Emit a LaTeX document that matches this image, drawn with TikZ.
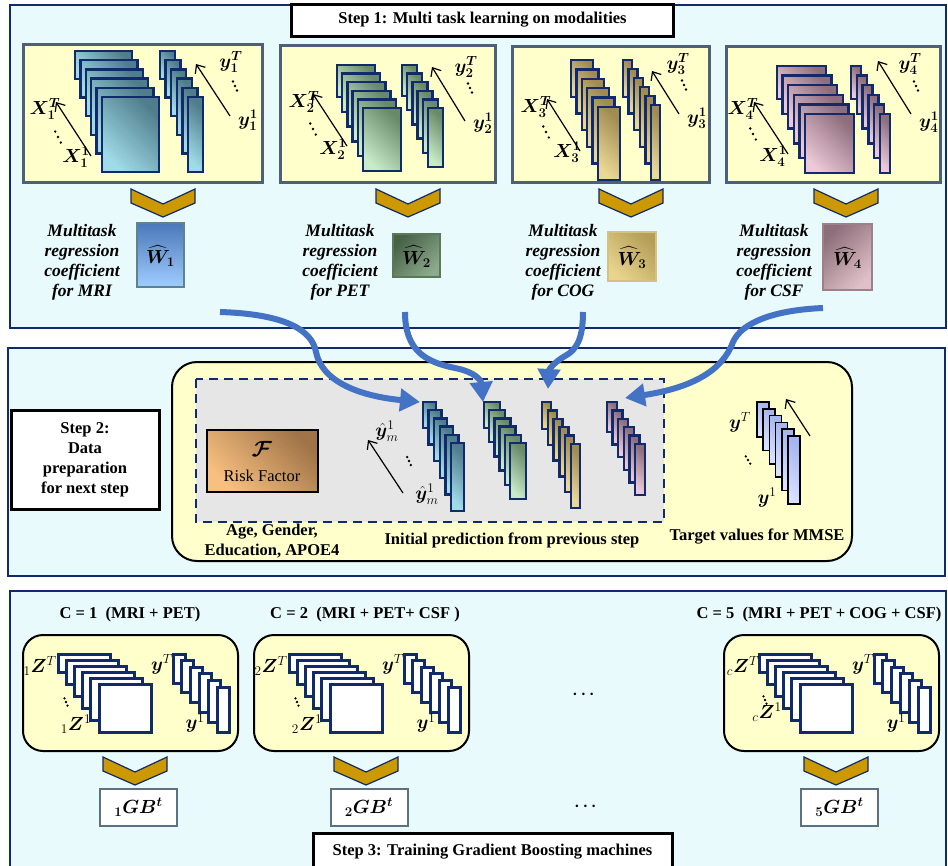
\RequirePackage{fix-cm}
\documentclass[tikz,border=0pt]{standalone}
\usepackage{amsmath}
\usepackage{bm}
\usepackage{fontspec}
\setmainfont{Liberation Serif}
\usetikzlibrary{arrows.meta}

\definecolor{panelbg}{RGB}{232,250,251}
\definecolor{navy}{RGB}{16,42,106}
\definecolor{ylw}{RGB}{255,255,204}
\definecolor{modborder}{RGB}{80,95,120}
\definecolor{gold}{RGB}{204,153,0}
\definecolor{arrowblue}{RGB}{68,114,196}
\definecolor{tealL}{RGB}{160,220,232}
\definecolor{tealD}{RGB}{80,125,140}
\definecolor{greenL}{RGB}{200,235,200}
\definecolor{greenD}{RGB}{105,138,105}
\definecolor{goldL}{RGB}{236,216,150}
\definecolor{goldD}{RGB}{160,140,80}
\definecolor{mauveL}{RGB}{236,200,216}
\definecolor{mauveD}{RGB}{142,110,126}
\definecolor{blueL}{RGB}{215,224,255}
\definecolor{blueD}{RGB}{165,182,240}
\definecolor{dashbg}{RGB}{230,230,230}
\definecolor{gbborder}{RGB}{95,112,128}
\definecolor{wOneT}{RGB}{75,120,185}
\definecolor{wOneB}{RGB}{160,205,255}
\definecolor{wOneR}{RGB}{95,130,145}
\definecolor{wTwoT}{RGB}{72,98,72}
\definecolor{wTwoB}{RGB}{140,170,140}
\definecolor{wTwoR}{RGB}{90,120,90}
\definecolor{wThrT}{RGB}{180,158,88}
\definecolor{wThrB}{RGB}{232,212,140}
\definecolor{wThrR}{RGB}{210,195,130}
\definecolor{wFouT}{RGB}{142,110,122}
\definecolor{wFouB}{RGB}{224,192,200}
\definecolor{wFouR}{RGB}{158,128,136}
\definecolor{rfD}{RGB}{160,116,72}
\definecolor{rfL}{RGB}{248,192,128}

\newcommand{\txtsz}{\fontsize{16.5}{20}\selectfont}
\newcommand{\lblsz}{\fontsize{17.5}{20}\selectfont}
\newcommand{\mathsz}{\fontsize{19}{20}\selectfont}
% x0 y0 dx dy w h-first h-last n style
\newcommand{\drawstack}[9]{%
  \foreach \ii in {1,...,#8}{%
    \pgfmathsetmacro{\stx}{#1+(\ii-1)*(#3)}%
    \pgfmathsetmacro{\sty}{#2+(\ii-1)*(#4)}%
    \pgfmathsetmacro{\sth}{#6+(\ii-1)*((#7)-(#6))/((#8)-1)}%
    \draw[#9] (\stx,\sty) rectangle ++(#5,\sth);
  }}
\newcommand{\chevron}[2]{%
  \draw[chev] (#1-32,#2) -- (#1,#2+15) -- (#1+32,#2) -- (#1+32,#2+14) -- (#1,#2+28) -- (#1-32,#2+14) -- cycle;}
% three slanted dots: centre x, centre y, step x, step y
\newcommand{\ddts}[4]{%
  \foreach \jj in {-1,0,1}{\fill (#1+\jj*#3,#2+\jj*#4) circle (1.3);}}

\begin{document}
\begin{tikzpicture}[x=1pt,y=-1pt,
  panel/.style={fill=panelbg, draw=navy, line width=2.5pt},
  modbox/.style={fill=ylw, draw=modborder, line width=3pt},
  titlebox/.style={fill=white, draw=black, line width=3pt, font=\txtsz\bfseries, inner sep=0},
  stk/.style={draw=navy, line width=2.4pt},
  tealst/.style={stk, top color=tealD, bottom color=tealL, shading angle=-45},
  greenst/.style={stk, top color=greenD, bottom color=greenL, shading angle=-45},
  goldst/.style={stk, top color=goldD, bottom color=goldL, shading angle=-45},
  mauvest/.style={stk, top color=mauveD, bottom color=mauveL, shading angle=-45},
  whitest/.style={draw=navy, line width=3pt, fill=white},
  bluest/.style={draw=black, line width=1.5pt, top color=blueD, bottom color=blueL, shading angle=-45},
  chev/.style={fill=gold, draw=navy, line width=1.2pt, line join=miter},
  thinarr/.style={-{Straight Barb[length=7pt,width=12pt]}, line width=1.2pt},
  bluearrow/.style={draw=arrowblue, line width=6pt, -{Triangle[length=20pt,width=22pt]}},
  lbl/.style={font=\lblsz\bfseries\itshape, align=center, inner sep=0},
  txt/.style={font=\txtsz\bfseries, align=center, inner sep=0},
  ml/.style={font=\mathsz, inner sep=0},
  gbbox/.style={draw=gbborder, line width=2pt, fill=white, minimum width=77, minimum height=37, inner sep=0, font=\mathsz}
]
\useasboundingbox (0,0) rectangle (948,865);
\fill[white] (0,0) rectangle (948,865);

% ---------------- Panels
\draw[panel] (10,5) rectangle (946,328);
\draw[panel] (8,348) rectangle (945,576);
\draw[panel] (10,591) rectangle (946,870);

% ---------------- Step 1
\node[titlebox, minimum width=382, minimum height=32] (t1) at (482.5,20) {Step 1: Multi task learning on modalities};

\draw[modbox] (23,44) rectangle (262,182);
\draw[modbox] (280,45) rectangle (495,182);
\draw[modbox] (512,46) rectangle (709,182);
\draw[modbox] (726,46) rectangle (940,182);

% box 1
\drawstack{75}{51}{5.4}{9.2}{57}{28}{75}{6}{tealst}
\drawstack{160}{51}{5.6}{9.2}{15}{28}{75}{6}{tealst}
\draw[thinarr] (91,156) -- (56,102);
\draw[thinarr] (230,116) -- (196,64);
\node[ml] at (45,109) {$\boldsymbol{X_1^T}$};
\ddts{58}{137}{2.8}{5.5}
\node[ml] at (76,157) {$\boldsymbol{X_1^1}$};
\node[ml] at (231,62) {$\boldsymbol{y_1^T}$};
\ddts{235}{86}{2}{4.5}
\node[ml] at (248,120) {$\boldsymbol{y_1^1}$};

% box 2
\drawstack{337}{65}{5.2}{8.6}{38}{32}{63}{6}{greenst}
\drawstack{402}{65}{5.2}{8.6}{15}{31}{59}{6}{greenst}
\draw[thinarr] (347,146) -- (313,94);
\draw[thinarr] (465,121) -- (432,67);
\node[ml] at (304,102) {$\boldsymbol{X_2^T}$};
\ddts{313}{129}{2.8}{5.5}
\node[ml] at (333,149) {$\boldsymbol{X_2^1}$};
\node[ml] at (466,67) {$\boldsymbol{y_2^T}$};
\ddts{470}{88}{2}{4.5}
\node[ml] at (483,123) {$\boldsymbol{y_2^1}$};

% box 3
\drawstack{571}{60}{5.4}{9.4}{22}{37}{73}{6}{goldst}
\drawstack{623}{60}{5.6}{9.0}{9}{37}{75}{6}{goldst}
\draw[thinarr] (580,151) -- (547,99);
\draw[thinarr] (679,114) -- (652,71);
\node[ml] at (536,107) {$\boldsymbol{X_3^T}$};
\ddts{546}{132}{2.8}{5.5}
\node[ml] at (567,152) {$\boldsymbol{X_3^1}$};
\node[ml] at (678,64) {$\boldsymbol{y_3^T}$};
\ddts{684}{85}{2}{4.5}
\node[ml] at (697,118) {$\boldsymbol{y_3^1}$};

% box 4
\drawstack{777}{66}{5.6}{9.6}{49}{33}{59}{6}{mauvest}
\drawstack{851}{66}{5.8}{9.6}{10}{33}{59}{6}{mauvest}
\draw[thinarr] (788,154) -- (754,102);
\draw[thinarr] (911,114) -- (878,61);
\node[ml] at (743,109) {$\boldsymbol{X_4^T}$};
\ddts{753}{134}{2.8}{5.5}
\node[ml] at (773,156) {$\boldsymbol{X_4^1}$};
\node[ml] at (910,64) {$\boldsymbol{y_4^T}$};
\ddts{916}{86}{2}{4.5}
\node[ml] at (929,122) {$\boldsymbol{y_4^1}$};

% chevrons
\chevron{163}{189}
\chevron{408}{189}
\chevron{631}{189}
\chevron{846}{189}

% W boxes
\draw[line width=2.2pt, draw=wOneR, top color=wOneT, bottom color=wOneB] (137,223) rectangle (184,287);
\node[ml] at (160.5,256) {$\boldsymbol{\widehat{W}_1}$};
\draw[line width=2.2pt, draw=wTwoR, top color=wTwoT, bottom color=wTwoB, shading angle=45] (393,234) rectangle (440,277);
\node[ml] at (416.5,256.5) {$\boldsymbol{\widehat{W}_2}$};
\draw[line width=2.2pt, draw=wThrR, top color=wThrT, bottom color=wThrB, shading angle=-45] (608,232) rectangle (656,281);
\node[ml] at (632,257.5) {$\boldsymbol{\widehat{W}_3}$};
\draw[line width=2.2pt, draw=wFouR, top color=wFouT, bottom color=wFouB, shading angle=45] (823,224) rectangle (872,290);
\node[ml] at (847.5,258) {$\boldsymbol{\widehat{W}_4}$};

\node[lbl] at (82,262) {Multitask\\regression\\coefficient\\for MRI};
\node[lbl] at (340,262) {Multitask\\regression\\coefficient\\for PET};
\node[lbl] at (563,262) {Multitask\\regression\\coefficient\\for COG};
\node[lbl] at (774,262) {Multitask\\regression\\coefficient\\for CSF};

% ---------------- Step 2
\node[titlebox, minimum width=148, minimum height=99, align=center] (t2) at (85,459.5) {Step 2:\\Data\\preparation\\for next step};
\draw[fill=ylw, draw=black, line width=2pt, rounded corners=25pt] (172,362) rectangle (852,561);
\draw[fill=dashbg, draw=navy, line width=2.5pt, dash pattern=on 9pt off 6pt] (196,379) rectangle (664,522);

\draw[line width=2.2pt, draw=black, top color=rfD, bottom color=rfL, shading angle=-45] (207,430) rectangle (318,492);
\node[font=\fontsize{22}{22}\selectfont, inner sep=0] at (262,449) {$\boldsymbol{\mathcal{F}}$};
\node[font=\txtsz, inner sep=0] at (262,476) {Risk Factor};

\draw[thinarr] (403,493) -- (368,440);
\node[ml] at (387,431) {$\hat{\boldsymbol{y}}_m^1$};
\ddts{409}{461}{1.8}{4}
\node[ml] at (427,494) {$\hat{\boldsymbol{y}}_m^1$};

\drawstack{423}{402}{5.6}{8.2}{13}{26}{68}{6}{tealst}
\drawstack{484}{402}{5.2}{8.2}{16}{26}{56}{6}{greenst}
\drawstack{542}{402}{5.8}{8.4}{9}{27}{64}{6}{goldst}
\drawstack{607}{402}{5.6}{8.4}{10}{30}{51}{6}{mauvest}

\drawstack{757}{402}{6.2}{6.8}{12}{35}{68}{6}{bluest}
\draw[thinarr] (810,436) -- (786,399);
\node[ml] at (740,422) {$\boldsymbol{y}^T$};
\ddts{748}{460}{2.2}{3.6}
\node[ml] at (767,498) {$\boldsymbol{y}^1$};

\node[txt] at (272,532) {Age, Gender,};
\node[txt] at (272,551) {Education, APOE4};
\node[txt] at (512,540) {Initial prediction from previous step};
\node[txt] at (757,537) {Target values for MMSE};

% ---------------- Step 3
\node[titlebox, minimum width=359, minimum height=38] (t3) at (492.5,852) {Step 3: Training Gradient Boosting machines};

\node[txt] at (130,615) {C = 1\enspace (MRI + PET)};
\node[txt] at (365,615) {C = 2\enspace (MRI + PET+ CSF )};
\node[txt] at (819,615) {C = 5\enspace (MRI + PET + COG + CSF)};

\foreach \k in {0,231,701}{
  \draw[fill=ylw, draw=black, line width=2pt, rounded corners=20pt] (23+\k,635) rectangle (238+\k,751);
  \drawstack{58+\k}{654}{8.2}{6}{52}{18}{48}{6}{whitest}
  \drawstack{173+\k}{654}{8.8}{6.6}{12}{29}{45}{6}{whitest}
  \node[ml] at (162+\k,664) {$\boldsymbol{y}^T$};
  \node[ml] at (195+\k,723) {$\boldsymbol{y}^1$};
}
\node[ml] at (40,666) {${}_1\boldsymbol{Z}^T$};
\ddts{66}{702}{1.5}{3.6}
\node[ml] at (76,724) {${}_1\boldsymbol{Z}^1$};
\node[ml] at (271,666) {${}_2\boldsymbol{Z}^T$};
\ddts{297}{702}{1.5}{3.6}
\node[ml] at (307,724) {${}_2\boldsymbol{Z}^1$};
\node[ml] at (743,666) {${}_c\boldsymbol{Z}^T$};
\ddts{765}{700}{1.5}{3.6}
\node[ml] at (767,712) {${}_c\boldsymbol{Z}^1$};

\chevron{135}{757}
\chevron{366}{757}
\chevron{836}{757}

\node[gbbox] (gb1) at (138.5,807.5) {${}_{\boldsymbol{1}}\boldsymbol{GB^t}$};
\node[gbbox] (gb2) at (369,807.5) {${}_{\boldsymbol{2}}\boldsymbol{GB^t}$};
\node[gbbox] (gb5) at (839.5,807.5) {${}_{\boldsymbol{5}}\boldsymbol{GB^t}$};

\node[font=\txtsz, inner sep=0] at (585,695) {$\boldsymbol{\cdots}$};
\node[font=\txtsz, inner sep=0] at (587,807) {$\boldsymbol{\cdots}$};

% ---------------- Blue arrows
\draw[bluearrow] (220,312) .. controls (285,314) and (312,330) .. (316,352) .. controls (322,382) and (360,396) .. (420,402);
\draw[bluearrow] (405,312) .. controls (405,350) and (425,362) .. (455,368) .. controls (475,372) and (481,380) .. (483,402);
\draw[bluearrow] (583,312) .. controls (583,340) and (576,350) .. (565,356) .. controls (553,363) and (549,370) .. (548,389);
\draw[bluearrow] (823,308) .. controls (775,310) and (742,322) .. (733,342) .. controls (722,372) and (690,388) .. (625,398);
\end{tikzpicture}
\end{document}
